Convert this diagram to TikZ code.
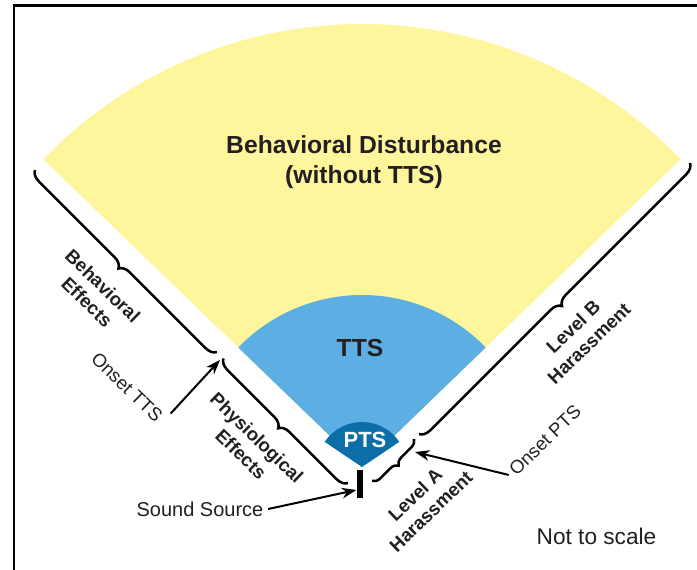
\documentclass[tikz,border=0pt]{standalone}
\usepackage{xcolor}
\usepackage{fontspec}
\setmainfont{Liberation Sans}
\usepackage{tikz}
\usetikzlibrary{arrows.meta,decorations.pathreplacing}

\definecolor{disturb}{RGB}{254,246,156}
\definecolor{ttsblue}{RGB}{92,174,227}
\definecolor{ptsblue}{RGB}{12,110,168}
\definecolor{ink}{RGB}{35,31,32}

\tikzset{
  zonelabel/.style={text=ink, align=center, font=\bfseries\fontsize{18.5}{22.5}\selectfont},
  sidelabel/.style={text=ink, align=center, font=\bfseries\fontsize{14}{17}\selectfont},
  notelabel/.style={text=ink, font=\fontsize{14}{16.5}\selectfont},
  bracket/.style={decorate, decoration={brace, amplitude=#1}, line width=1.9pt},
  bracket/.default=8pt,
  pointer/.style={-{Stealth[length=11pt, width=8pt]}, line width=1.5pt},
}

\begin{document}
\begin{tikzpicture}[x=0.75pt, y=0.75pt]
  \useasboundingbox (0,0) rectangle (697,569);
  % frame
  \draw[line width=2pt] (14,-10) -- (14,563.3) -- (710,563.3);

  \coordinate (src) at (362,102);

  % zones
  \fill[disturb] (src) -- ++(136:443) arc[start angle=136, end angle=44, radius=443] -- cycle;
  \fill[ttsblue] (src) -- ++(136:172) arc[start angle=136, end angle=44, radius=172] -- cycle;
  \fill[ptsblue] (src) -- ++(146:45) arc[start angle=146, end angle=34, radius=45] -- cycle;

  \node[zonelabel] (disturbance) at (364,407) {Behavioral Disturbance\\(without TTS)};
  \node[zonelabel] (tts) at (360,221) {TTS};
  \node[zonelabel, text=white, font=\bfseries\fontsize{16.5}{18}\selectfont] (pts) at (365,129.5) {PTS};

  % source
  \node[fill=black, inner sep=0pt, minimum width=5pt, minimum height=21pt] (bar) at (360,85) {};

  % braces along both edges
  \draw[bracket] (217,217) -- (35,399);
  \draw[bracket] (348,86) -- (223,211);
  \draw[bracket] (690,406) -- (419,135);
  \draw[bracket=6pt] (414,130) -- (372,88);

  \node[sidelabel, rotate=-44] (behav) at (95,275) {Behavioral\\Effects};
  \node[sidelabel, rotate=-44] (physio) at (249,123) {Physiological\\Effects};
  \node[sidelabel, rotate=44] (levelb) at (581,234) {Level B\\Harassment};
  \node[sidelabel, rotate=44] (levela) at (423,66) {Level A\\Harassment};

  \node[notelabel, rotate=-44] (onsettts) at (127,182) {Onset TTS};
  \node[notelabel, rotate=44] (onsetpts) at (545,129) {Onset PTS};
  \node[notelabel, font=\fontsize{15}{17}\selectfont] (sound) at (200,60) {Sound Source};
  \node[notelabel, font=\fontsize{17}{19}\selectfont] (scale) at (596.5,32.5) {Not to scale};

  % pointers
  \coordinate (ttsonset) at (220,209);
  \coordinate (ptsonset) at (415,117);
  \draw[pointer] (onsettts.north east) -- (ttsonset);
  \draw[pointer] (onsetpts.west) -- (ptsonset);
  \draw[pointer] (sound.east) -- ([yshift=-4.5pt]bar.west);
\end{tikzpicture}
\end{document}
